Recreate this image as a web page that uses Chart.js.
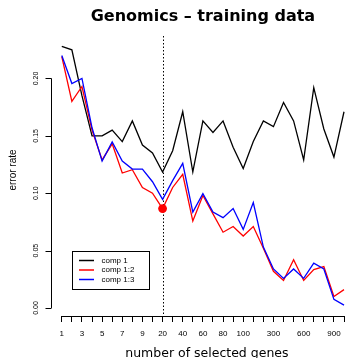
<!DOCTYPE html>
<html>
<head>
<meta charset="utf-8">
<title>Genomics - training data</title>
<script src="https://cdn.jsdelivr.net/npm/chart.js@4"></script>
<style>
    html, body { margin: 0; padding: 0; background: #ffffff; }
    #wrap { width: 351px; height: 358px; }
</style>
</head>
<body>
<div id="wrap"><canvas id="errorChart" width="351" height="358"></canvas></div>
<script>
// Number of genes kept (x categories, evenly spaced like the R plot)
const keepX = [1, 2, 3, 4, 5, 6, 7, 8, 9, 10,
    20, 30, 40, 50, 60, 70, 80, 90, 100,
    150, 200, 300, 400, 500, 600, 700, 800, 900, 1000];

// Tick labels R actually printed (the rest were dropped for overlap)
const shownTicks = [1, 3, 5, 7, 9, 20, 40, 60, 80, 100, 300, 600, 900];
const yTicks = [0, 0.05, 0.10, 0.15, 0.20];

const seriesNames = ['comp 1', 'comp 1:2', 'comp 1:3'];

// Error rates
const comp1 = [0.228, 0.225, 0.185, 0.150, 0.150, 0.155, 0.145, 0.163, 0.142, 0.135,
    0.1185, 0.137, 0.171, 0.1185, 0.163, 0.153, 0.163, 0.140, 0.1215,
    0.145, 0.163, 0.158, 0.179, 0.163, 0.129, 0.192, 0.156, 0.1315, 0.171];
const comp12 = [0.219, 0.180, 0.193, 0.155, 0.129, 0.143, 0.1176, 0.1205, 0.105, 0.100,
    0.0866, 0.105, 0.1165, 0.0757, 0.098, 0.082, 0.066, 0.071, 0.0627,
    0.071, 0.052, 0.032, 0.024, 0.042, 0.024, 0.0335, 0.036, 0.010, 0.016];
const comp13 = [0.220, 0.1956, 0.200, 0.157, 0.128, 0.1447, 0.128, 0.121, 0.121, 0.110,
    0.0947, 0.111, 0.126, 0.0836, 0.0996, 0.0836, 0.0787, 0.0866, 0.0685,
    0.0918, 0.053, 0.034, 0.0258, 0.034, 0.0258, 0.039, 0.034, 0.0075, 0.0025];

const optimalKeep = 20;

const FONT = "'Liberation Sans', Arial, sans-serif";
const WIDE_FONT = "'DejaVu Sans', 'Liberation Sans', sans-serif";
Chart.defaults.font.family = FONT;
Chart.defaults.color = '#000000';

const optimalIdx = keepX.indexOf(optimalKeep);
const lineColors = ['#000000', '#ff0000', '#0000ff'];
const series = [comp1, comp12, comp13];

const datasets = series.map((vals, s) => ({
    label: seriesNames[s],
    data: vals.map((v, i) => ({ x: i, y: v })),
    borderColor: lineColors[s],
    backgroundColor: lineColors[s],
    borderWidth: 1.3,
    pointRadius: s === 1 ? (ctx => ctx.dataIndex === optimalIdx ? 4.4 : 0) : 0,
    pointBorderWidth: 0,
    pointHoverRadius: 0,
    tension: 0,
    clip: false,
    order: 2 - s   // comp 1:3 drawn last, as in R
}));

// Dotted line, axis spines, rotated y labels, titles and legend (R look)
const rStyle = {
    id: 'rStyle',
    beforeDatasetsDraw(chart) {
        const { ctx, chartArea, scales: { x } } = chart;
        const px = Math.round(x.getPixelForValue(optimalIdx)) + 0.5;
        ctx.save();
        ctx.strokeStyle = '#000';
        ctx.lineWidth = 1;
        ctx.setLineDash([1.5, 2]);
        ctx.beginPath();
        ctx.moveTo(px, chartArea.top);
        ctx.lineTo(px, chartArea.bottom);
        ctx.stroke();
        ctx.restore();
    },
    afterDraw(chart) {
        const { ctx, chartArea, scales: { x, y } } = chart;
        ctx.save();
        ctx.setLineDash([]);
        ctx.strokeStyle = '#000000';
        ctx.lineWidth = 1;

        // axis lines only between first and last tick, plus y tick marks
        const by = Math.round(chartArea.bottom) + 0.5;
        const lx = Math.round(chartArea.left) + 0.5;
        ctx.beginPath();
        ctx.moveTo(x.getPixelForValue(0), by);
        ctx.lineTo(x.getPixelForValue(keepX.length - 1), by);
        ctx.moveTo(lx, y.getPixelForValue(yTicks[0]));
        ctx.lineTo(lx, y.getPixelForValue(yTicks[yTicks.length - 1]));
        yTicks.forEach(v => {
            const ty = Math.round(y.getPixelForValue(v)) + 0.5;
            ctx.moveTo(lx - 6, ty);
            ctx.lineTo(lx, ty);
        });
        ctx.stroke();

        ctx.fillStyle = '#000000';
        ctx.textAlign = 'center';
        ctx.textBaseline = 'middle';

        // y tick labels, parallel to the axis
        ctx.font = '7px ' + FONT;
        yTicks.forEach(v => {
            ctx.save();
            ctx.translate(chartArea.left - 14.5, y.getPixelForValue(v));
            ctx.rotate(-Math.PI / 2);
            ctx.fillText(v.toFixed(2), 0, 0);
            ctx.restore();
        });

        const cx = x.getPixelForValue((keepX.length - 1) / 2);
        const cy = (chartArea.top + chartArea.bottom) / 2 - 6;

        ctx.textBaseline = 'alphabetic';
        ctx.font = 'bold 16px ' + WIDE_FONT;
        ctx.fillText('Genomics \u2013 training data', cx, 20.5);

        ctx.font = '12.5px ' + WIDE_FONT;
        ctx.fillText('number of selected genes', cx + 4, 356.5);

        ctx.textBaseline = 'middle';
        ctx.font = '10px ' + FONT;
        ctx.save();
        ctx.translate(13.5, cy);
        ctx.rotate(-Math.PI / 2);
        ctx.fillText('error rate', 0, 0);
        ctx.restore();

        // legend box
        ctx.strokeRect(72.5, 251.5, 77, 38);
        ctx.font = '8px ' + FONT;
        ctx.textAlign = 'left';
        chart.data.datasets.forEach((ds, i) => {
            const ry = 260.5 + i * 9.5;
            ctx.strokeStyle = ds.borderColor;
            ctx.lineWidth = 1.5;
            ctx.beginPath();
            ctx.moveTo(79, ry);
            ctx.lineTo(94, ry);
            ctx.stroke();
            ctx.fillText(ds.label, 101.5, ry);
        });
        ctx.restore();
    }
};

const errorChart = new Chart(document.getElementById('errorChart').getContext('2d'), {
    type: 'line',
    data: { datasets },
    options: {
        responsive: false,
        animation: false,
        devicePixelRatio: 1,
        layout: { padding: { top: 36, left: 0, right: 0, bottom: 0 } },
        plugins: {
            legend: { display: false },
            title: { display: false },
            tooltip: { enabled: false }
        },
        scales: {
            x: {
                type: 'linear',
                min: -1.12,
                max: 28.08,
                afterBuildTicks: scale => { scale.ticks = keepX.map((_, i) => ({ value: i })); },
                afterFit: scale => { scale.height = 42; },
                grid: { drawOnChartArea: false, drawTicks: true, tickLength: 6, color: '#000', lineWidth: 1 },
                border: { display: false },
                ticks: {
                    autoSkip: false,
                    maxRotation: 0,
                    minRotation: 0,
                    padding: 7,
                    font: { size: 8 },
                    callback: v => shownTicks.includes(keepX[v]) ? String(keepX[v]) : ''
                }
            },
            y: {
                type: 'linear',
                min: -0.007,
                max: 0.237,
                afterBuildTicks: scale => { scale.ticks = yTicks.map(v => ({ value: v })); },
                afterFit: scale => { scale.width = 50.5; },
                grid: { display: false },
                border: { display: false },
                ticks: { display: false }
            }
        }
    },
    plugins: [rStyle]
});
</script>
</body>
</html>
